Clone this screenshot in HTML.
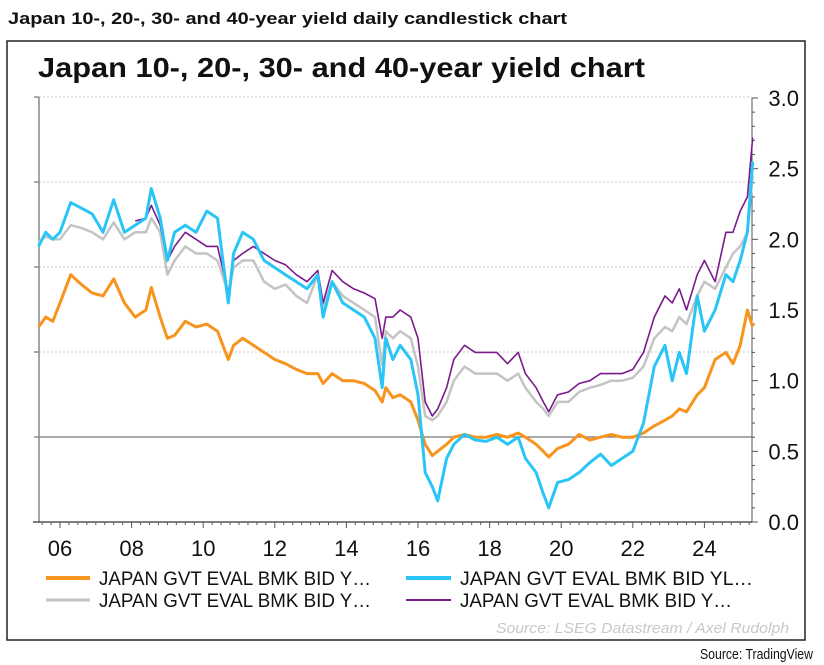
<!DOCTYPE html>
<html><head><meta charset="utf-8">
<style>
html,body{margin:0;padding:0;background:#fff;}
body{width:824px;height:665px;position:relative;overflow:hidden;font-family:"Liberation Sans",sans-serif;}
svg{position:absolute;left:0;top:0;}
</style></head>
<body>
<svg id="chart" width="824" height="665" viewBox="0 0 824 665">
  <text x="8" y="24" font-family="Liberation Sans, sans-serif" font-weight="bold" font-size="17" fill="#111" textLength="559" lengthAdjust="spacingAndGlyphs">Japan 10-, 20-, 30- and 40-year yield daily candlestick chart</text>
  <rect x="7" y="41" width="798" height="599" fill="#fff" stroke="#222" stroke-width="1.5"/>
  <text x="38" y="77" font-family="Liberation Sans, sans-serif" font-weight="bold" font-size="28" fill="#111" textLength="607" lengthAdjust="spacingAndGlyphs">Japan 10-, 20-, 30- and 40-year yield chart</text>
  <g id="grid"></g>
  <g id="axes"></g>
  <g id="series"></g>
  <g id="legend" font-family="Liberation Sans Narrow, Liberation Sans, sans-serif" font-size="19" fill="#111">
    <line x1="46" y1="578" x2="90" y2="578" stroke="#f7941d" stroke-width="4"/>
    <text x="99" y="585" textLength="272" lengthAdjust="spacingAndGlyphs">JAPAN GVT EVAL BMK BID Y…</text>
    <line x1="406" y1="578" x2="451" y2="578" stroke="#29c5f6" stroke-width="4"/>
    <text x="460" y="585" textLength="293" lengthAdjust="spacingAndGlyphs">JAPAN GVT EVAL BMK BID YL…</text>
    <line x1="46" y1="600" x2="90" y2="600" stroke="#c4c4c4" stroke-width="3"/>
    <text x="99" y="607" textLength="272" lengthAdjust="spacingAndGlyphs">JAPAN GVT EVAL BMK BID Y…</text>
    <line x1="406" y1="600" x2="451" y2="600" stroke="#7b1a8c" stroke-width="2"/>
    <text x="460" y="607" textLength="272" lengthAdjust="spacingAndGlyphs">JAPAN GVT EVAL BMK BID Y…</text>
  </g>
  <text x="789" y="633" text-anchor="end" font-family="Liberation Sans Narrow, Liberation Sans, sans-serif" font-style="italic" font-size="15" fill="#c8c8c8" textLength="293" lengthAdjust="spacingAndGlyphs">Source: LSEG Datastream / Axel Rudolph</text>
  <text x="813" y="659" text-anchor="end" font-family="Liberation Sans Narrow, Liberation Sans, sans-serif" font-size="15" fill="#111" textLength="113" lengthAdjust="spacingAndGlyphs">Source: TradingView</text>
</svg>
<script>
const years = [2005.4,2005.6,2005.8,2006.0,2006.3,2006.6,2006.9,2007.2,2007.5,2007.8,2008.1,2008.4,2008.55,2008.8,2009.0,2009.2,2009.5,2009.8,2010.1,2010.4,2010.7,2010.85,2011.1,2011.4,2011.7,2012.0,2012.3,2012.6,2012.9,2013.2,2013.35,2013.6,2013.9,2014.2,2014.5,2014.8,2015.0,2015.1,2015.3,2015.5,2015.8,2016.0,2016.2,2016.4,2016.55,2016.8,2017.0,2017.3,2017.6,2017.9,2018.2,2018.5,2018.8,2019.0,2019.3,2019.5,2019.65,2019.9,2020.2,2020.5,2020.8,2021.1,2021.4,2021.7,2022.0,2022.3,2022.6,2022.9,2023.1,2023.3,2023.5,2023.8,2024.0,2024.3,2024.6,2024.8,2025.0,2025.2,2025.35];
const y10 = [1.38,1.45,1.42,1.55,1.75,1.68,1.62,1.6,1.72,1.55,1.45,1.5,1.66,1.45,1.3,1.32,1.42,1.38,1.4,1.35,1.15,1.25,1.3,1.25,1.2,1.15,1.12,1.08,1.05,1.05,0.98,1.05,1.0,1.0,0.98,0.93,0.85,0.95,0.88,0.9,0.85,0.72,0.55,0.47,0.5,0.55,0.6,0.62,0.6,0.6,0.62,0.6,0.63,0.6,0.55,0.5,0.46,0.52,0.55,0.62,0.58,0.6,0.62,0.6,0.6,0.63,0.68,0.72,0.75,0.8,0.78,0.9,0.95,1.15,1.2,1.12,1.25,1.5,1.38];
const y20 = [1.98,2.02,2.0,2.0,2.1,2.08,2.05,2.0,2.12,2.0,2.05,2.05,2.15,2.05,1.75,1.85,1.95,1.9,1.9,1.85,1.62,1.8,1.85,1.85,1.7,1.65,1.68,1.6,1.55,1.75,1.53,1.7,1.6,1.55,1.5,1.45,1.11,1.35,1.3,1.35,1.3,1.1,0.75,0.72,0.75,0.85,1.0,1.1,1.05,1.05,1.05,1.0,1.05,0.95,0.85,0.8,0.75,0.85,0.85,0.92,0.95,0.97,1.0,1.0,1.02,1.1,1.3,1.38,1.35,1.45,1.4,1.6,1.7,1.65,1.8,1.9,1.95,2.05,2.45];
const y30 = [1.95,2.05,2.0,2.05,2.26,2.22,2.18,2.05,2.28,2.05,2.1,2.15,2.36,2.15,1.85,2.05,2.1,2.05,2.2,2.15,1.55,1.9,2.05,2.0,1.85,1.8,1.75,1.7,1.65,1.75,1.45,1.7,1.55,1.5,1.45,1.3,0.95,1.3,1.15,1.25,1.15,0.9,0.35,0.25,0.15,0.45,0.55,0.62,0.58,0.57,0.6,0.55,0.6,0.45,0.35,0.2,0.1,0.28,0.3,0.35,0.42,0.48,0.4,0.45,0.5,0.7,1.1,1.25,1.0,1.2,1.05,1.6,1.35,1.5,1.75,1.7,1.85,2.05,2.55];
const y40 = [null,null,null,null,null,null,null,null,null,null,2.13,2.15,2.24,2.1,1.85,1.95,2.05,2.0,1.95,1.95,1.62,1.85,1.9,1.95,1.9,1.85,1.82,1.75,1.7,1.78,1.55,1.78,1.7,1.65,1.62,1.58,1.3,1.45,1.45,1.5,1.45,1.3,0.85,0.75,0.8,0.95,1.15,1.25,1.2,1.2,1.2,1.12,1.2,1.05,0.95,0.85,0.78,0.9,0.92,0.98,1.0,1.05,1.05,1.05,1.08,1.2,1.45,1.6,1.55,1.65,1.5,1.75,1.85,1.7,2.05,2.05,2.2,2.3,2.72];
const yTicks = [0.0,0.5,1.0,1.5,2.0,2.5,3.0];
const yTickLabels = ["0.0","0.5","1.0","1.5","2.0","2.5","3.0"];
const xTicks = [2006,2008,2010,2012,2014,2016,2018,2020,2022,2024];
const xTickLabels = ["06","08","10","12","14","16","18","20","22","24"];

const NS = "http://www.w3.org/2000/svg";
const X0 = 39, X1 = 752, YB = 522, YT = 98;
function xs(t){ return 60 + (t - 2006) * 35.8; }
function ys(v){ return YB - v * (YB - YT) / 3.0; }
function mk(tag, attrs, parent){ const e = document.createElementNS(NS, tag); for (const k in attrs) e.setAttribute(k, attrs[k]); parent.appendChild(e); return e; }

const grid = document.getElementById('grid');
const axes = document.getElementById('axes');
// left-axis dotted gridlines (unlabelled)
for (let i = 0; i < 5; i++) {
  const y = 97 + i * 85;
  const g = mk('line', {x1: X0, x2: X1, y1: y, y2: y, stroke: '#bbb', 'stroke-width': 0.7, 'stroke-dasharray': '2,2'}, grid);
  
  
  const t = mk('line', {x1: X0 - 5, x2: X0, y1: y, y2: y, stroke: '#555', 'stroke-width': 1}, axes);
  
  
}
const zl = mk('line', {x1: X0, x2: X1, y1: 437, y2: 437, stroke: '#777', 'stroke-width': 1.3}, grid);



const la = mk('line', {x1: X0, x2: X0, y1: 97, y2: YB, stroke: '#888', 'stroke-width': 1.5}, axes);


const ra = mk('line', {x1: X1, x2: X1, y1: YT, y2: YB, stroke: '#555', 'stroke-width': 1}, axes);


const xa = mk('line', {x1: X0 - 6, x2: X1, y1: YB, y2: YB, stroke: '#333', 'stroke-width': 1.2}, axes);



for (let v = 0; v <= 30; v++) {
  const y = ys(v / 10);
  const t = mk('line', {x1: X1, x2: X1 + (v % 5 === 0 ? 6 : 3), y1: y, y2: y, stroke: '#555', 'stroke-width': 1}, axes);
  
  
}
yTicks.forEach((v, i) => {
  const t = mk('text', {x: 799, y: ys(v) + 8, 'text-anchor': 'end', 'font-family': 'Liberation Sans Narrow, Liberation Sans, sans-serif', 'font-size': 22, fill: '#111'}, axes);
  t.textContent = yTickLabels[i];
  
  
});
for (let q = 0; ; q++) {
  const t = 2005.5 + q * 0.25;
  const x = xs(t);
  if (x > X1) break;
  if (x < X0) continue;
  const major = Math.abs(t - Math.round(t)) < 1e-6 && Math.round(t) % 2 === 0;
  const tk = mk('line', {x1: x, x2: x, y1: YB, y2: YB + (major ? 6 : 3), stroke: '#555', 'stroke-width': 1}, axes);
  
  
}
xTicks.forEach((t, i) => {
  const e = mk('text', {x: xs(t), y: 556, 'text-anchor': 'middle', 'font-family': 'Liberation Sans Narrow, Liberation Sans, sans-serif', 'font-size': 22, fill: '#111'}, axes);
  e.textContent = xTickLabels[i];
  
  
});

const series = document.getElementById('series');
function drawLine(vals, color, w, name) {
  let d = '', pen = false;
  vals.forEach((v, i) => {
    if (v === null) { pen = false; return; }
    d += (pen ? 'L' : 'M') + xs(years[i]).toFixed(1) + ',' + ys(v).toFixed(1);
    pen = true;
  });
  const p = mk('path', {d: d, fill: 'none', stroke: color, 'stroke-width': w, 'stroke-linejoin': 'round'}, series);
  
  
}
drawLine(y10, '#f7941d', 3, 'series-10y-line');
drawLine(y20, '#c4c4c4', 2.5, 'series-20y-line');
drawLine(y40, '#7b1a8c', 1.6, 'series-40y-line');
drawLine(y30, '#29c5f6', 3, 'series-30y-line');
</script>
</body></html>
